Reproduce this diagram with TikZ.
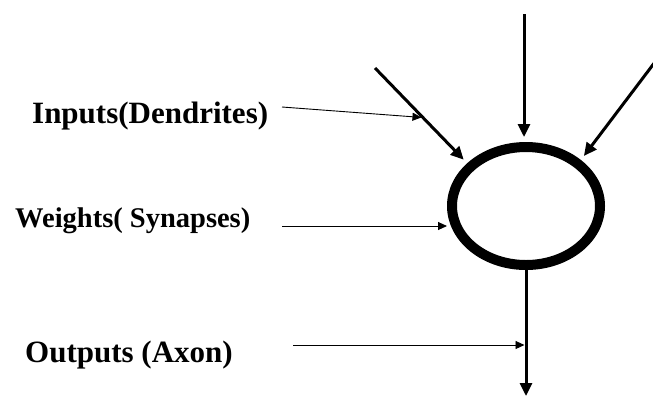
\documentclass[tikz,border=0pt]{standalone}
\usepackage{fontspec}
\setmainfont{Liberation Serif}
\usetikzlibrary{arrows.meta,shapes.geometric,calc}
\begin{document}
\begin{tikzpicture}[x=1pt,y=-1pt,
  lbl/.style={anchor=base west,inner sep=0pt,font=\bfseries\fontsize{31}{31}\selectfont},
  thick arrow/.style={line width=3pt,-{Triangle[length=13pt,width=12pt]}},
  thin arrow/.style={line width=0.9pt,-{Triangle[length=9pt,width=8pt]}}]
\useasboundingbox (0,0) rectangle (653,397);
% neuron body
\node[ellipse,draw,line width=10pt,minimum width=148pt,minimum height=118pt,inner sep=0pt] (neuron) at (526,206) {};
% labels
\node[lbl] (inputs) at (32,123) {Inputs(Dendrites)};
\node[lbl,font=\bfseries\fontsize{28.5}{28.5}\selectfont] (weights) at (15,227) {Weights( Synapses)};
\node[lbl] (outputs) at (25,362) {Outputs (Axon)};
% input line end points
\coordinate (lstart) at (375,68);
\coordinate (tstart) at (524,14);
\coordinate (rstart) at (655,62);
\coordinate (otip) at (526,396);
% inputs
\draw[thick arrow,shorten >=5pt] (lstart) -- (neuron.144);
\draw[thick arrow,shorten >=5pt] (tstart) -- (tstart |- neuron.north);
\draw[thick arrow,shorten >=5pt] (rstart) -- (neuron.40);
% output
\draw[thick arrow] (neuron.south) -- (otip);
% label pointers
\coordinate (ia) at (282,107);
\coordinate (ib) at ($(lstart)!0.52!(neuron.144)$);
\draw[thin arrow,shorten >=1.5pt] (ia) -- (ib);
\coordinate (wa) at (282,226);
\coordinate (wb) at (447,226);
\draw[thin arrow] (wa) -- (wb);
\coordinate (oa) at (293,345);
\coordinate (ob) at (524.5,345);
\draw[thin arrow] (oa) -- (ob);
\end{tikzpicture}
\end{document}
